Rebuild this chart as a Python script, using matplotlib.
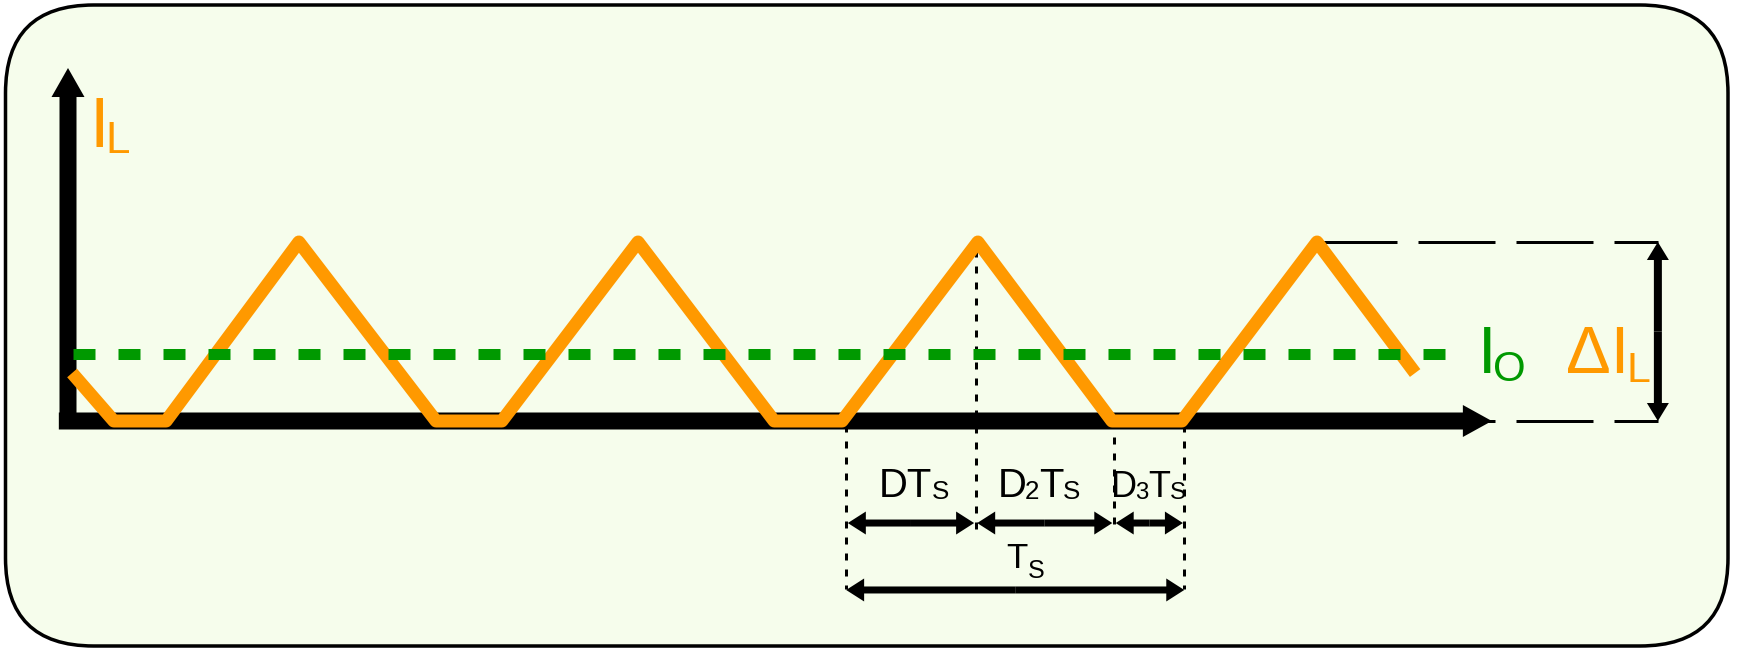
import matplotlib
matplotlib.use('Agg')
import matplotlib.pyplot as plt
from matplotlib.patches import FancyBboxPatch, FancyArrowPatch, ArrowStyle
from matplotlib.transforms import IdentityTransform

# ---------------- data (time in units of Ts, current in units of the ripple ΔI_L) ----------------
wave_t = [0.012, 0.135, 0.289, 0.680, 1.084, 1.278, 1.679, 2.080, 2.280,
          2.680, 3.075, 3.281, 3.679, 3.968]
wave_i = [0.268, 0.0, 0.0, 1.0, 0.0, 0.0, 1.0, 0.0, 0.0,
          1.0, 0.0, 0.0, 1.0, 0.268]
io_level = 0.374
io_span = [0.015, 4.094]
ripple_guide_span = [3.688, 4.683]
ripple_levels = [0.0, 1.0]
ripple_x = 4.683

# one period split into the three intervals
period_bounds = [2.292, 2.674, 3.080, 3.288]

# axis extents (data units)
x_axis_span = [-0.027, 4.194]
y_axis_span = [-0.04, 1.972]

# label texts: (glyphs, font size, x offset pt, y offset pt)
label_IL = [('I', 70, 0, 0), ('L', 44, 16.0, -6)]
label_IO = [('I', 67, 0, 0), ('O', 42, 15.2, -8)]
label_dIL = [('ΔI', 67, 0, 0), ('L', 43, 60.5, -9)]
label_DTs = [('DT', 40, 0, 0), ('S', 26, 53.0, -1.5)]
label_D2Ts = [('D', 40, 0, 0), ('2', 26, 27.3, -2), ('T', 40, 41.0, 0), ('S', 26, 65.1, -1.5)]
label_D3Ts = [('D', 36, 0, 0), ('3', 24, 24.6, -2), ('T', 36, 37.4, 0), ('S', 24, 59.1, -1.5)]
label_Ts = [('T', 35, 0, 0), ('S', 25, 21.1, -10)]

# ---------------- style ----------------
W, H, DPI = 1738, 653, 72
X0, PXT = 68.0, 339.5      # pixel of t=0 and pixels per Ts
Y0, PXI = 421.0, 179.0     # pixel row of i=0 and pixels per ΔI
ORANGE = '#FF9900'
GREEN = '#009900'
BG = '#F6FDEC'
FAMILY = ['Liberation Sans', 'DejaVu Sans']

plt.rcParams['font.family'] = FAMILY
plt.rcParams['lines.scale_dashes'] = False

fig = plt.figure(figsize=(W / DPI, H / DPI), dpi=DPI)
fig.patch.set_facecolor('white')

box = FancyBboxPatch((5.5, H - 646), 1728 - 5.5, 646 - 5,
                     boxstyle='round,pad=0,rounding_size=88',
                     transform=IdentityTransform(), fc=BG, ec='black', lw=3.5, zorder=0)
fig.add_artist(box)

ax = fig.add_axes([0, 0, 1, 1])
ax.set_axis_off()
ax.patch.set_visible(False)
ax.set_xlim(-X0 / PXT, (W - X0) / PXT)
ax.set_ylim((Y0 - H) / PXI, Y0 / PXI)


def arrow(p0, p1, hl, hw, tw, z, color='black'):
    st = ArrowStyle.Simple(head_length=hl, head_width=hw, tail_width=tw)
    a = FancyArrowPatch(p0, p1, arrowstyle=st, mutation_scale=1, shrinkA=0, shrinkB=0,
                        lw=0, color=color, zorder=z)
    ax.add_patch(a)


def dbl_arrow(p0, p1, hl, hw, tw, z):
    mid = ((p0[0] + p1[0]) / 2, (p0[1] + p1[1]) / 2)
    arrow(mid, p1, hl, hw, tw, z)
    arrow(mid, p0, hl, hw, tw, z)


def label(t, i, pieces, color, z=6):
    for s, fs, dx, dy in pieces:
        ax.annotate(s, xy=(t, i), xytext=(dx, dy), textcoords='offset points',
                    fontsize=fs, color=color, ha='left', va='baseline',
                    family=FAMILY, zorder=z)


# ripple guide dashed lines
for lev in ripple_levels:
    ax.plot(ripple_guide_span, [lev, lev], color='black', lw=3,
            linestyle=(0, (77, 21)), dash_capstyle='butt', zorder=1)
dbl_arrow((ripple_x, ripple_levels[0]), (ripple_x, ripple_levels[1]), 18, 22, 8, 2)

# axes arrows
arrow((x_axis_span[0], 0), (x_axis_span[1], 0), 29, 32, 17, 2)
arrow((0, y_axis_span[0]), (0, y_axis_span[1]), 29, 33, 17, 2)

# dotted interval markers
dot = dict(color='black', lw=3, linestyle=(0, (7, 9)), dash_capstyle='butt', zorder=1.5)
ax.plot([period_bounds[0]] * 2, [-0.02, -0.94], **dot)
ax.plot([period_bounds[1]] * 2, [0.955, -0.63], **dot)
ax.plot([period_bounds[2]] * 2, [0.0, -0.58], **dot)
ax.plot([period_bounds[3]] * 2, [-0.02, -0.94], **dot)

# waveform
ax.plot(wave_t, wave_i, color=ORANGE, lw=13, solid_joinstyle='round',
        solid_capstyle='butt', zorder=3)

# average current
ax.plot(io_span, [io_level, io_level], color=GREEN, lw=11,
        linestyle=(0, (22, 23)), dash_capstyle='butt', zorder=4)

# interval arrows
row1, row2 = -0.570, -0.944
gaps = [(0.005, -0.005), (0.004, -0.004), (0.006, -0.004)]
for k in range(3):
    a0 = period_bounds[k] + gaps[k][0]
    a1 = period_bounds[k + 1] + gaps[k][1]
    dbl_arrow((a0, row1), (a1, row1), 18, 23, 7, 5)
dbl_arrow((period_bounds[0], row2), (period_bounds[3], row2), 18, 23, 7, 5)

# labels
label(0.0633, 1.5307, label_IL, ORANGE)
label(4.1526, 0.2682, label_IO, GREEN)
label(4.4115, 0.2682, label_dIL, ORANGE)
label(2.3879, -0.4246, label_DTs, 'black')
label(2.7386, -0.4246, label_D2Ts, 'black')
label(3.0713, -0.4246, label_D3Ts, 'black')
label(2.7643, -0.8212, label_Ts, 'black')

fig.savefig('out.png', dpi=DPI, facecolor='white')
